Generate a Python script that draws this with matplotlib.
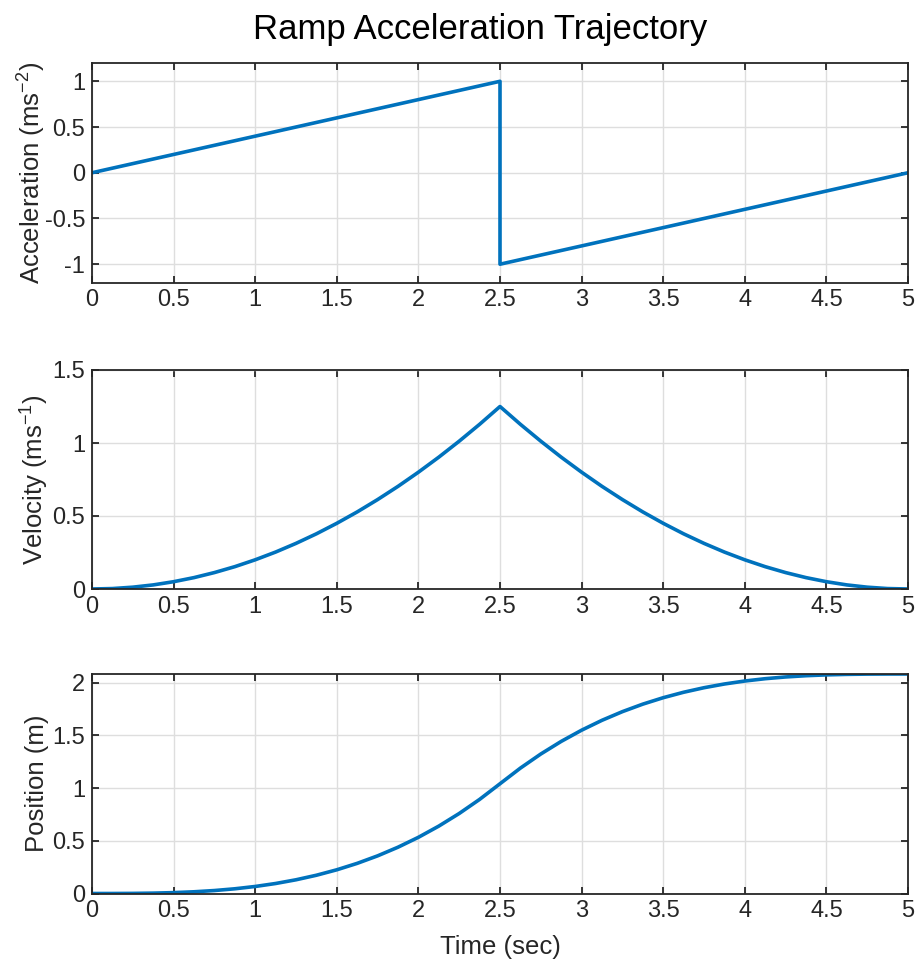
import matplotlib
matplotlib.use("Agg")
import matplotlib.pyplot as plt

plt.rcParams['font.family'] = ['Liberation Sans', 'DejaVu Sans']
plt.rcParams['mathtext.default'] = 'regular'

# --- data ---
acc_t = [0.0, 2.5, 2.5, 5.0]
acc_v = [0.0, 1.0, -1.0, 0.0]

time_pts = [0.0, 0.125, 0.25, 0.375, 0.5, 0.625, 0.75, 0.875, 1.0, 1.125, 1.25,
            1.375, 1.5, 1.625, 1.75, 1.875, 2.0, 2.125, 2.25, 2.375, 2.5,
            2.625, 2.75, 2.875, 3.0, 3.125, 3.25, 3.375, 3.5, 3.625, 3.75,
            3.875, 4.0, 4.125, 4.25, 4.375, 4.5, 4.625, 4.75, 4.875, 5.0]
velocity = [0.0, 0.003, 0.0125, 0.028, 0.05, 0.078, 0.1125, 0.153, 0.2, 0.253, 0.3125,
            0.378, 0.45, 0.528, 0.6125, 0.703, 0.8, 0.903, 1.0125, 1.128, 1.25,
            1.128, 1.0125, 0.903, 0.8, 0.703, 0.6125, 0.528, 0.45, 0.378, 0.3125,
            0.253, 0.2, 0.153, 0.1125, 0.078, 0.05, 0.028, 0.0125, 0.003, 0.0]
position = [0.0, 0.0001, 0.001, 0.0035, 0.0083, 0.0163, 0.0281, 0.0447, 0.0667, 0.0949, 0.1302,
            0.1733, 0.225, 0.2861, 0.3573, 0.4395, 0.5333, 0.6397, 0.7594, 0.8931, 1.0417,
            1.1902, 1.3240, 1.4436, 1.55, 1.6439, 1.7260, 1.7973, 1.8583, 1.9100, 1.9531,
            1.9884, 2.0167, 2.0387, 2.0552, 2.0671, 2.075, 2.0798, 2.0823, 2.0832, 2.0833]

x_ticks = [0, 0.5, 1, 1.5, 2, 2.5, 3, 3.5, 4, 4.5, 5]
x_ticklabels = ['0', '0.5', '1', '1.5', '2', '2.5', '3', '3.5', '4', '4.5', '5']

BLUE = '#0072BD'
SPINE = '#262626'

W, H = 915, 961
LEFT, RIGHT = 92, 908
fig = plt.figure(figsize=(W / 100, H / 100), dpi=100)

def make_ax(top_px, bot_px):
    return fig.add_axes([LEFT / W, 1 - bot_px / H, (RIGHT - LEFT) / W, (bot_px - top_px) / H])

ax1 = make_ax(63, 282.5)
ax2 = make_ax(370, 589)
ax3 = make_ax(674, 893.5)

def style(ax):
    ax.set_xlim(0, 5)
    ax.set_xticks(x_ticks)
    ax.set_xticklabels(x_ticklabels)
    ax.grid(True, color='#dedede', linewidth=1.0)
    ax.set_axisbelow(True)
    for s in ax.spines.values():
        s.set_color(SPINE)
        s.set_linewidth(1.3)
    ax.tick_params(direction='in', length=5, width=1.3, color=SPINE,
                   labelsize=17, labelcolor='#262626', top=True, right=True, pad=5)

def xfrac(px):
    return (px - LEFT) / (RIGHT - LEFT)

LW = 2.6

ax1.plot(acc_t, acc_v, color=BLUE, linewidth=LW)
style(ax1)
ax1.set_ylim(-1.2, 1.2)
ax1.set_yticks([-1, -0.5, 0, 0.5, 1])
ax1.set_yticklabels(['-1', '-0.5', '0', '0.5', '1'])
ax1.set_ylabel('Acceleration (ms$^{-2}$)', fontsize=18.5, color='#262626')
ax1.yaxis.set_label_coords(xfrac(48), 0.5)

ax2.plot(time_pts, velocity, color=BLUE, linewidth=LW)
style(ax2)
ax2.set_ylim(0, 1.5)
ax2.set_yticks([0, 0.5, 1, 1.5])
ax2.set_yticklabels(['0', '0.5', '1', '1.5'])
ax2.set_ylabel('Velocity (ms$^{-1}$)', fontsize=18.5, color='#262626')
ax2.yaxis.set_label_coords(xfrac(51), 0.5)

ax3.plot(time_pts, position, color=BLUE, linewidth=LW)
style(ax3)
ax3.set_ylim(0, 2.0833)
ax3.set_yticks([0, 0.5, 1, 1.5, 2])
ax3.set_yticklabels(['0', '0.5', '1', '1.5', '2'])
ax3.set_ylabel('Position (m)', fontsize=18.5, color='#262626')
ax3.yaxis.set_label_coords(xfrac(49), 0.5)
ax3.set_xlabel('Time (sec)', fontsize=18.5, color='#262626')
ax3.xaxis.set_label_coords(0.5, -(935 - 893.5) / (893.5 - 674))

fig.text(480 / W, 1 - 30 / H, 'Ramp Acceleration Trajectory', ha='center', va='center',
         fontsize=25, color='black')

fig.savefig('out.png', dpi=100)
